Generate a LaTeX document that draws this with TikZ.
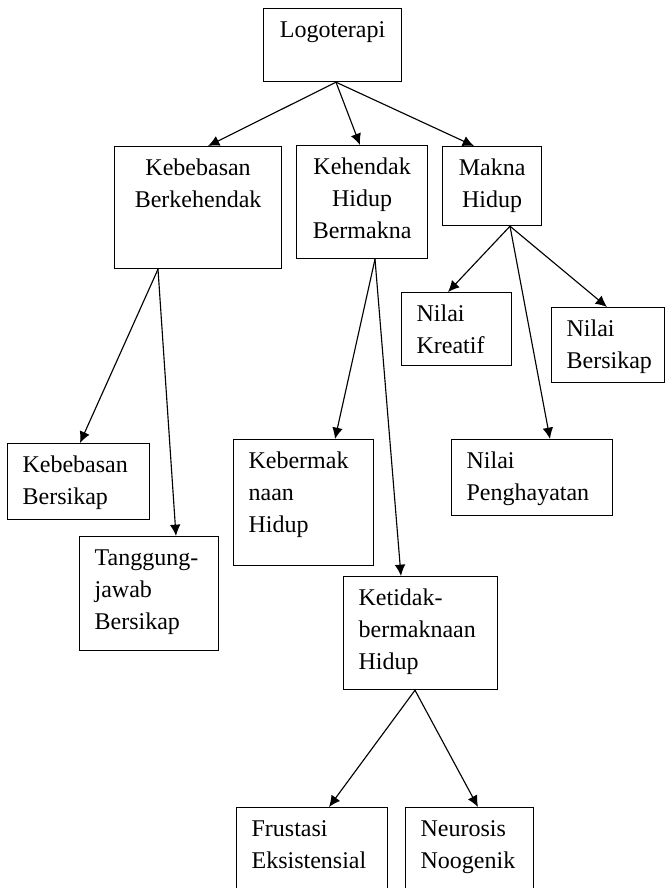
\documentclass[tikz,border=0pt]{standalone}
\usepackage{fontspec}
\setmainfont{Liberation Serif}
\usetikzlibrary{arrows.meta,calc}
\newlength{\px}
\setlength{\px}{0.75pt}
\newcommand{\tengah}[3]{\parbox[t][#2\px][t]{#1\px}{\centering\rule{0pt}{29\px}#3}}
\newcommand{\kiri}[3]{\parbox[t][#2\px][t]{#1\px}{\raggedright\leftskip=15\px\rule{0pt}{29\px}#3}}
\begin{document}
\begin{tikzpicture}[x=0.75pt,y=-0.75pt,
    kotak/.style={draw,line width=0.9pt,inner sep=0pt,anchor=north west,font=\fontsize{18pt}{24pt}\selectfont},
    panah/.style={-{Latex[length=8.5pt,width=8pt]},line width=0.85pt}]
    \clip (0,0) rectangle (665,888);
    \node[kotak] (logo) at (263,8) {\tengah{138}{73}{Logoterapi}};
    \node[kotak] (kb) at (114,146) {\tengah{167}{122}{Kebebasan\\Berkehendak}};
    \node[kotak] (kh) at (296,145) {\tengah{131}{113}{Kehendak\\Hidup\\Bermakna}};
    \node[kotak] (mh) at (442,146) {\tengah{99}{79}{Makna\\Hidup}};
    \node[kotak] (nk) at (401,292) {\kiri{110}{73}{Nilai\\Kreatif}};
    \node[kotak] (nb) at (551,307) {\kiri{113}{75}{Nilai\\Bersikap}};
    \node[kotak] (np) at (451,439) {\kiri{161}{76}{Nilai\\Penghayatan}};
    \node[kotak] (bs) at (7,443) {\kiri{142}{76}{Kebebasan\\Bersikap}};
    \node[kotak] (tj) at (79,536) {\kiri{139}{114}{Tanggung-\\jawab\\Bersikap}};
    \node[kotak] (km) at (233,439) {\kiri{140}{126}{Kebermak\\naan\\Hidup}};
    \node[kotak] (ktb) at (343,576) {\kiri{154}{113}{Ketidak-\\bermaknaan\\Hidup}};
    \node[kotak] (fe) at (236,807) {\kiri{151}{93}{Frustasi\\Eksistensial}};
    \node[kotak] (nn) at (405,807) {\kiri{128}{93}{Neurosis\\Noogenik}};
    \draw[panah] ($(logo.south west)+(73,0)$) -- ($(kb.north west)+(94,0)$);
    \draw[panah] ($(logo.south west)+(73,0)$) -- ($(kh.north west)+(64,0)$);
    \draw[panah] ($(logo.south west)+(73,0)$) -- ($(mh.north west)+(32,0)$);
    \draw[panah] ($(kb.south west)+(44,0)$) -- ($(bs.north west)+(73,0)$);
    \draw[panah] ($(kb.south west)+(44,0)$) -- ($(tj.north west)+(97,0)$);
    \draw[panah] ($(kh.south west)+(79,0)$) -- ($(km.north west)+(102,0)$);
    \draw[panah] ($(kh.south west)+(79,0)$) -- ($(ktb.north west)+(58,0)$);
    \draw[panah] ($(mh.south west)+(68,0)$) -- ($(nk.north west)+(47,0)$);
    \draw[panah] ($(mh.south west)+(68,0)$) -- ($(np.north west)+(99,0)$);
    \draw[panah] ($(mh.south west)+(68,0)$) -- ($(nb.north west)+(56,0)$);
    \draw[panah] ($(ktb.south west)+(72,0)$) -- ($(fe.north west)+(93,0)$);
    \draw[panah] ($(ktb.south west)+(72,0)$) -- ($(nn.north west)+(73,0)$);
\end{tikzpicture}
\end{document}
